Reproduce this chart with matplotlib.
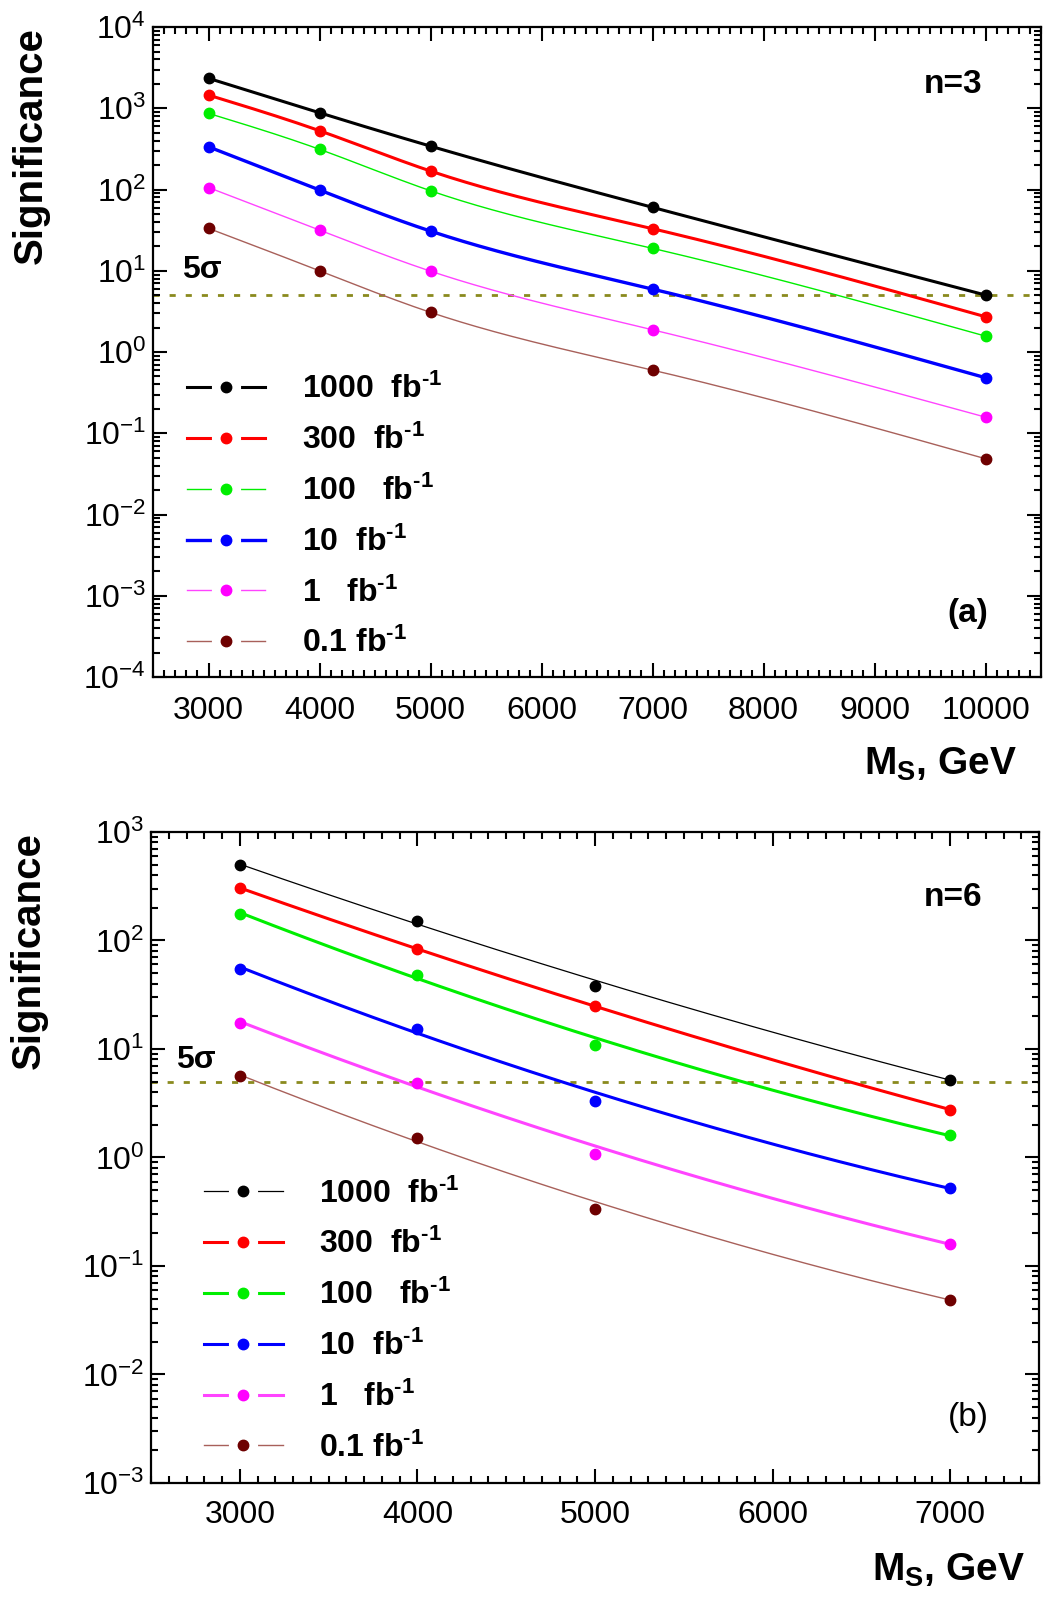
import numpy as np
import matplotlib
matplotlib.use("Agg")
import matplotlib.pyplot as plt
from matplotlib.lines import Line2D
from matplotlib.legend_handler import HandlerTuple
from matplotlib.ticker import MultipleLocator, LogLocator, NullFormatter

plt.rcParams['font.family'] = ['Liberation Sans', 'DejaVu Sans']
plt.rcParams['mathtext.fontset'] = 'custom'
plt.rcParams['mathtext.rm'] = 'Liberation Sans'
plt.rcParams['mathtext.bf'] = 'Liberation Sans:bold'
plt.rcParams['mathtext.it'] = 'Liberation Sans:italic'
plt.rcParams['mathtext.sf'] = 'Liberation Sans'

# ---------------- data ----------------
lumi_labels = ["1000  fb", "300  fb", "100   fb", "10  fb", "1   fb", "0.1 fb"]

ms_n3 = [3000, 4000, 5000, 7000, 10000]
sig_n3_1000 = [2340, 882, 342, 60.4, 5.03]
sig_n3_300 = [1455, 530, 169, 33.0, 2.72]
sig_n3_100 = [867, 313, 96.7, 18.9, 1.57]
sig_n3_10 = [336, 98.6, 30.8, 5.96, 0.483]
sig_n3_1 = [106, 31.7, 9.9, 1.88, 0.158]
sig_n3_01 = [33.3, 10.0, 3.08, 0.60, 0.0486]

ms_n6 = [3000, 4000, 5000, 7000]
sig_n6_1000 = [492, 151, 37.8, 5.2]
sig_n6_300 = [305, 83.5, 24.7, 2.76]
sig_n6_100 = [175, 48.4, 10.8, 1.60]
sig_n6_10 = [55.0, 15.3, 3.34, 0.523]
sig_n6_1 = [17.3, 4.86, 1.08, 0.160]
sig_n6_01 = [5.6, 1.51, 0.337, 0.049]

five_sigma = 5.0

# ---------------- styles ----------------
line_colors = ['#000000', '#ff0000', '#00ee00', '#0000ff', '#ff44ff', '#a8605a']
marker_colors = ['#000000', '#ff0000', '#00ee00', '#0000ff', '#ff00ff', '#6e0000']
lw_top = [2.2, 2.2, 1.0, 2.4, 1.0, 1.0]
lw_bot = [0.9, 2.2, 2.2, 2.2, 2.2, 1.0]
olive = '#8a8a1e'


def spline_curve(x, y, npts=300):
    """Natural cubic spline through the points in (x, log10 y) space - drawing only."""
    x = np.asarray(x, float)
    ly = np.log10(np.asarray(y, float))
    n = len(x)
    h = np.diff(x)
    A = np.zeros((n, n))
    b = np.zeros(n)
    A[0, 0] = 1
    A[-1, -1] = 1
    for i in range(1, n - 1):
        A[i, i - 1] = h[i - 1]
        A[i, i] = 2 * (h[i - 1] + h[i])
        A[i, i + 1] = h[i]
        b[i] = 6 * ((ly[i + 1] - ly[i]) / h[i] - (ly[i] - ly[i - 1]) / h[i - 1])
    M = np.linalg.solve(A, b)
    xs = np.linspace(x[0], x[-1], npts)
    idx = np.clip(np.searchsorted(x, xs) - 1, 0, n - 2)
    x0, x1 = x[idx], x[idx + 1]
    hh = x1 - x0
    t0 = x1 - xs
    t1 = xs - x0
    ys = (M[idx] * t0 ** 3 / (6 * hh) + M[idx + 1] * t1 ** 3 / (6 * hh)
          + (ly[idx] / hh - M[idx] * hh / 6) * t0
          + (ly[idx + 1] / hh - M[idx + 1] * hh / 6) * t1)
    return xs, 10 ** ys


def fit_curve(x, y, npts=300):
    """Smooth weighted quadratic fit in (x, log10 y) space - drawing only."""
    x = np.asarray(x, float)
    ly = np.log10(np.asarray(y, float))
    w = np.ones_like(x)
    w[[0, 1, -1]] = 1.6
    c = np.polyfit(x / 1000.0, ly, 2, w=w)
    xs = np.linspace(x[0], x[-1], npts)
    return xs, 10 ** np.polyval(c, xs / 1000.0)


fig = plt.figure(figsize=(10.43, 16.02), dpi=100)


def style_axes(ax, xmin, xmax, ymin, ymax):
    ax.set_yscale('log')
    ax.set_xlim(xmin, xmax)
    ax.set_ylim(ymin, ymax)
    ax.xaxis.set_major_locator(MultipleLocator(1000))
    ax.xaxis.set_minor_locator(MultipleLocator(100))
    ax.yaxis.set_major_locator(LogLocator(base=10, numticks=30))
    ax.yaxis.set_minor_locator(LogLocator(base=10, subs=np.arange(2, 10), numticks=200))
    ax.yaxis.set_minor_formatter(NullFormatter())
    ax.tick_params(which='both', direction='in', top=True, right=True, width=1.5,
                   labelsize=23)
    ax.tick_params(which='major', length=10)
    ax.tick_params(which='minor', length=5)
    ax.tick_params(axis='y', which='major', pad=5)
    for s in ax.spines.values():
        s.set_linewidth(1.6)


def draw_panel(ax, ms, series, lws, curve_fn, xl, yl, panel_text, panel_bold, ntext,
               sig_pos, leg_anchor, xlabel_coords, ylabel_x, xpad):
    style_axes(ax, *xl, *yl)
    ax.tick_params(axis='x', which='major', pad=xpad)
    ax.axhline(five_sigma, color=olive, lw=2.0, ls=(0, (2.2, 3.6)), zorder=1)
    handles = []
    for vals, lc, mc, lw in zip(series, line_colors, marker_colors, lws):
        xs, ys = curve_fn(ms, vals)
        ax.plot(xs, ys, color=lc, lw=lw, zorder=2)
        ax.plot(ms, vals, ls='none', marker='o', ms=7.5, color=mc, zorder=3)
        h_line = Line2D([], [], color=lc, lw=lw, marker='o', ms=20,
                        mfc='white', mec='white')
        h_mark = Line2D([], [], ls='none', marker='o', ms=7.5, color=mc)
        handles.append((h_line, h_mark))
    labels = [lab + "$^{\\mathbf{\u2010" + "1}}$" for lab in lumi_labels]
    ax.legend(handles, labels, handler_map={tuple: HandlerTuple(ndivide=1, pad=0)},
              loc='upper left', bbox_to_anchor=leg_anchor, frameon=False,
              prop={'weight': 'bold', 'size': 23}, handlelength=2.45,
              handletextpad=1.15, labelspacing=0.61, borderpad=0,
              borderaxespad=0)
    ax.text(*ntext[0], ntext[1], transform=ax.transAxes, fontsize=24,
            fontweight='bold', ha='center', va='center')
    ax.text(*panel_text[0], panel_text[1], transform=ax.transAxes, fontsize=24,
            fontweight='bold' if panel_bold else 'normal', ha='center', va='center')
    ax.text(*sig_pos, '5σ', transform=ax.transAxes, fontsize=23,
            fontweight='bold', ha='center', va='center')
    ax.set_ylabel('Significance', fontsize=29, fontweight='bold', loc='top')
    ax.yaxis.set_label_coords(ylabel_x, 1.0)
    ax.set_xlabel(r'M$_{\mathbf{S}}$, GeV', fontsize=28, fontweight='bold', loc='right')
    ax.xaxis.set_label_coords(*xlabel_coords)
    ax.xaxis.label.set_va('top')


ax1 = fig.add_axes([0.1467, 0.5774, 0.8514, 0.4057])
draw_panel(ax1, ms_n3,
           [sig_n3_1000, sig_n3_300, sig_n3_100, sig_n3_10, sig_n3_1, sig_n3_01],
           lw_top, spline_curve, (2500, 10500), (1e-4, 1e4),
           ((0.918, 0.097), '(a)'), True, ((0.901, 0.911), 'n=3'),
           (0.055, 0.626), (0.038, 0.466), (0.973, -0.105), -0.116, 14)

ax2 = fig.add_axes([0.1448, 0.0743, 0.8514, 0.4064])
draw_panel(ax2, ms_n6,
           [sig_n6_1000, sig_n6_300, sig_n6_100, sig_n6_10, sig_n6_1, sig_n6_01],
           lw_bot, fit_curve, (2500, 7500), (1e-3, 1e3),
           ((0.92, 0.101), '(b)'), False, ((0.903, 0.900), 'n=6'),
           (0.05, 0.65), (0.06, 0.468), (0.984, -0.105), -0.116, 12)

fig.savefig('out.png', dpi=100)
